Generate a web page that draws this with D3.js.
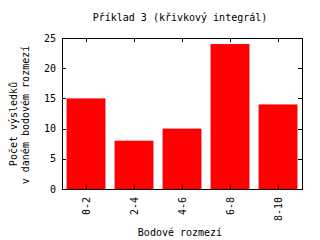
<!DOCTYPE html>
<html>
<head>
<meta charset="utf-8">
<script src="https://cdn.jsdelivr.net/npm/d3@7"></script>
<style>
  body {margin: 0; background: #fff;}
  text {font-family: "DejaVu Sans Mono", monospace; font-size: 10px; fill: #000;}
</style>
</head>
<body>
<div class="chartWrap"></div>
<script>
//Data
const categories = ["0-2", "2-4", "4-6", "6-8", "8-10"];
const counts = [15, 8, 10, 24, 14];
const yTicks = [0, 5, 10, 15, 20, 25];

//Layout
const W = 320, H = 240,
      margin = {top: 38, right: 18, bottom: 51, left: 62},
      w = W - margin.left - margin.right,
      h = H - margin.top - margin.bottom;

let svg = d3.select(".chartWrap").append("svg").attr("width", W).attr("height", H);
let g = svg.append("g").attr("transform", "translate(" + margin.left + "," + margin.top + ")");

let x = d3.scaleBand().domain(categories).range([0, w]).paddingInner(0.19).paddingOuter(0.095);
let y = d3.scaleLinear().domain([0, 25]).range([h, 0]);

//Bars
g.selectAll(".bar").data(counts).enter().append("rect")
  .attr("class", "bar")
  .attr("x", function(d, i) {return x(categories[i]);})
  .attr("y", function(d) {return y(d);})
  .attr("width", x.bandwidth())
  .attr("height", function(d) {return h - y(d);})
  .attr("fill", "#ff0000");

//Frame
g.append("rect").attr("x", 0.5).attr("y", 0.5).attr("width", w).attr("height", h)
  .attr("fill", "none").attr("stroke", "#000").attr("stroke-width", 1);

//Ticks inside (gnuplot style, mirrored)
g.selectAll(".ytl").data(yTicks).enter().append("line")
  .attr("x1", 0).attr("x2", 4)
  .attr("y1", function(d) {return Math.round(y(d)) + 0.5;}).attr("y2", function(d) {return Math.round(y(d)) + 0.5;})
  .attr("stroke", "#000");
g.selectAll(".ytr").data(yTicks).enter().append("line")
  .attr("x1", w - 4).attr("x2", w)
  .attr("y1", function(d) {return Math.round(y(d)) + 0.5;}).attr("y2", function(d) {return Math.round(y(d)) + 0.5;})
  .attr("stroke", "#000");
g.selectAll(".xtb").data(categories).enter().append("line")
  .attr("x1", function(d) {return Math.round(x(d) + x.bandwidth() / 2) + 0.5;})
  .attr("x2", function(d) {return Math.round(x(d) + x.bandwidth() / 2) + 0.5;})
  .attr("y1", h).attr("y2", h - 4).attr("stroke", "#000");
g.selectAll(".xtt").data(categories).enter().append("line")
  .attr("x1", function(d) {return Math.round(x(d) + x.bandwidth() / 2) + 0.5;})
  .attr("x2", function(d) {return Math.round(x(d) + x.bandwidth() / 2) + 0.5;})
  .attr("y1", 0).attr("y2", 4).attr("stroke", "#000");

//Tick labels
g.selectAll(".ylab").data(yTicks).enter().append("text")
  .attr("x", -6).attr("y", function(d) {return y(d);})
  .attr("dy", "0.35em").attr("text-anchor", "end")
  .text(function(d) {return d;});
g.selectAll(".xlab").data(categories).enter().append("text")
  .attr("transform", function(d) {return "translate(" + (x(d) + x.bandwidth() / 2 + 4) + "," + (h + 8) + ") rotate(-90)";})
  .attr("text-anchor", "end")
  .text(function(d) {return d;});

//Titles
svg.append("text").attr("x", 180).attr("y", 21).attr("text-anchor", "middle").text("Příklad 3 (křivkový integrál)");
svg.append("text").attr("x", 180).attr("y", 236).attr("text-anchor", "middle").text("Bodové rozmezí");
svg.append("text").attr("transform", "translate(17,124) rotate(-90)").attr("text-anchor", "middle").text("Počet výsledků");
svg.append("text").attr("transform", "translate(29,115) rotate(-90)").attr("text-anchor", "middle").text("v daném bodovém rozmezí");
</script>
</body>
</html>
